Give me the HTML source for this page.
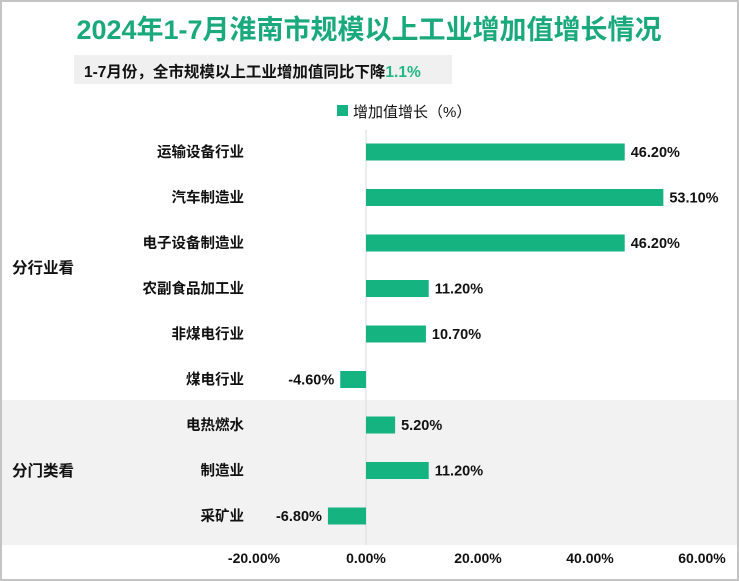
<!DOCTYPE html>
<html><head><meta charset="utf-8"><style>
body{margin:0;background:#fff;}
#root{position:relative;width:739px;height:581px;overflow:hidden;font-family:"Liberation Sans","Noto Sans CJK SC",sans-serif;}
</style></head><body>
<div id="root">
<svg width="739" height="581" xmlns="http://www.w3.org/2000/svg" font-family="Liberation Sans, Noto Sans CJK SC, sans-serif">
<rect x="1" y="1" width="737" height="579" fill="#fff" stroke="#c4c4c4" stroke-width="2"/>
<rect x="2" y="400" width="735" height="145" fill="#f2f2f2"/>
<text x="369" y="39" text-anchor="middle" font-size="27" font-weight="bold" fill="#1aa97a">2024年1-7月淮南市规模以上工业增加值增长情况</text>
<rect x="74" y="55" width="378" height="29" fill="#f0f0f0"/>
<text x="84" y="77" font-size="15.5" font-weight="bold" fill="#111">1-7月份，全市规模以上工业增加值同比下降<tspan fill="#1fb784">1.1%</tspan></text>
<rect x="337" y="105" width="11" height="11" fill="#14b380"/>
<text x="353" y="117" font-size="15" fill="#111">增加值增长（%）</text>
<line x1="366" y1="130" x2="366" y2="545" stroke="#d9d9d9"/>
<text x="12" y="273" font-size="15.5" font-weight="bold" fill="#111">分行业看</text>
<text x="12" y="476" font-size="15.5" font-weight="bold" fill="#111">分门类看</text>
<g id="bars"></g>
<g id="ticks"></g>
</svg>
</div>
<script>
const categories=["运输设备行业","汽车制造业","电子设备制造业","农副食品加工业","非煤电行业","煤电行业","电热燃水","制造业","采矿业"];
const values=[46.2,53.1,46.2,11.2,10.7,-4.6,5.2,11.2,-6.8];
const tickValues=[-20,0,20,40,60];
const tickLabels=["-20.00%","0.00%","20.00%","40.00%","60.00%"];
const NS="http://www.w3.org/2000/svg";
const x=v=>366+v*5.6;
const y=i=>152+i*45.5;
const bars=document.getElementById('bars');
function mk(t,a,p){const e=document.createElementNS(NS,t);for(const k in a)e.setAttribute(k,a[k]);p.appendChild(e);return e;}
categories.forEach((c,i)=>{
  const v=values[i];
  const r=mk('rect',{x:Math.min(x(0),x(v)),y:y(i)-8.5,width:Math.abs(x(v)-x(0)),height:17,fill:'#14b380'},bars);
  
  
  const cl=mk('text',{x:244,y:y(i)+5,'text-anchor':'end','font-size':14.5,'font-weight':'bold',fill:'#111'},bars);
  cl.textContent=c;
  
  
  const vl=mk('text',{x:v>=0?x(v)+6:x(v)-6,y:y(i)+5,'text-anchor':v>=0?'start':'end','font-size':14.5,'font-weight':'bold',fill:'#111'},bars);
  vl.textContent=v.toFixed(2)+'%';
  
  
});
const ticks=document.getElementById('ticks');
tickValues.forEach((t,i)=>{
  const tl=mk('text',{x:x(t),y:563,'text-anchor':'middle','font-size':14,'font-weight':'bold',fill:'#111'},ticks);
  tl.textContent=tickLabels[i];
  
  
});
</script>
</body></html>
